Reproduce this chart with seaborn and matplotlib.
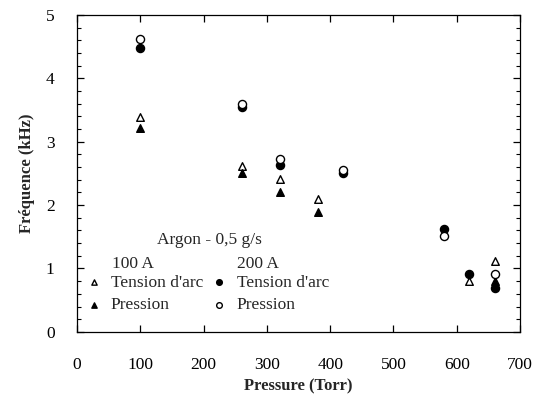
import pandas as pd
import numpy as np
import matplotlib
matplotlib.use("Agg")
import matplotlib.pyplot as plt
import seaborn as sns
from matplotlib.ticker import MultipleLocator

# Données (Argon - 0,5 g/s)
p_100_tension = [100, 260, 320, 380, 620, 660]
f_100_tension = [3.39, 2.62, 2.41, 2.10, 0.80, 1.12]

p_100_pression = [100, 260, 320, 380, 660]
f_100_pression = [3.22, 2.51, 2.21, 1.89, 0.80]

p_200_tension = [100, 260, 320, 420, 580, 620, 660]
f_200_tension = [4.48, 3.55, 2.63, 2.50, 1.62, 0.91, 0.69]

p_200_pression = [100, 260, 320, 420, 580, 660]
f_200_pression = [4.62, 3.60, 2.73, 2.55, 1.51, 0.91]

sns.set_style("ticks")
plt.rcParams['font.family'] = ['Liberation Serif', 'DejaVu Serif']

fig = plt.figure(figsize=(5.34, 3.96), dpi=100)
ax = fig.add_axes([0.144, 0.162, 0.830, 0.800])

series = [
    (p_100_tension, f_100_tension, '^', 'white', 30, "Tension d'arc"),
    (p_100_pression, f_100_pression, '^', 'black', 30, "Pression"),
    (p_200_tension, f_200_tension, 'o', 'black', 34, "Tension d'arc"),
    (p_200_pression, f_200_pression, 'o', 'white', 34, "Pression"),
]
for px, fy, mk, fc, sz, lab in series:
    df = pd.DataFrame({'p': px, 'f': fy})
    sns.scatterplot(data=df, x='p', y='f', ax=ax, marker=mk, color=fc,
                    edgecolor='black', linewidth=1.0, s=sz, label=lab, zorder=3)
h, l = ax.get_legend_handles_labels()
ax.get_legend().remove()

ax.set_xlim(0, 700)
ax.set_ylim(0, 5)
ax.xaxis.set_major_locator(MultipleLocator(100))
ax.yaxis.set_major_locator(MultipleLocator(1))
ax.yaxis.set_minor_locator(MultipleLocator(0.2))
ax.tick_params(which='both', direction='in', top=True, right=True, labelsize=12.5, colors='black')
ax.tick_params(which='major', length=5, width=0.9)
ax.tick_params(which='minor', length=3, width=0.8)
ax.tick_params(axis='x', pad=18)
ax.tick_params(axis='y', pad=16)
for s in ax.spines.values():
    s.set_linewidth(0.9)
    s.set_color('black')

ax.set_xlabel('Pressure (Torr)', fontsize=12, fontweight='bold', labelpad=4)
ax.set_ylabel('Fréquence (kHz)', fontsize=12, fontweight='bold', labelpad=8)

ax.text(0.30, 0.29, 'Argon - 0,5 g/s', transform=ax.transAxes, fontsize=12.5,
        ha='center', va='center')
ax.text(0.079, 0.215, '100 A', transform=ax.transAxes, fontsize=12.5, ha='left', va='center')
ax.text(0.361, 0.215, '200 A', transform=ax.transAxes, fontsize=12.5, ha='left', va='center')

leg_kw = dict(frameon=False, fontsize=12.5, handlelength=1.0, handletextpad=0.5,
              labelspacing=0.35, borderpad=0, borderaxespad=0, markerscale=0.7)
leg1 = ax.legend(h[:2], l[:2], loc='upper left', bbox_to_anchor=(0.018, 0.18), **leg_kw)
ax.add_artist(leg1)
ax.legend(h[2:], l[2:], loc='upper left', bbox_to_anchor=(0.302, 0.18), **leg_kw)

plt.savefig('out.png', dpi=100)
